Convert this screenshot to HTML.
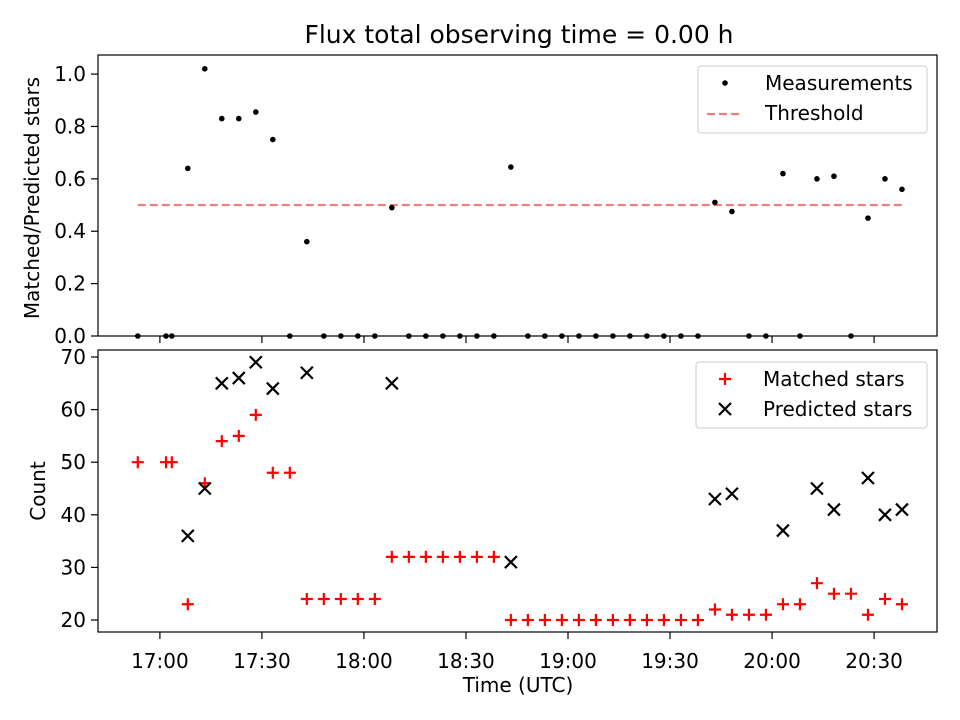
<!DOCTYPE html>
<html><head><meta charset="utf-8"><style>
body{margin:0;background:#fff;}
svg{display:block;font-family:"DejaVu Sans","Liberation Sans",sans-serif;}
</style></head><body>
<svg id="chart" width="960" height="720" xmlns="http://www.w3.org/2000/svg"></svg>
<script>
// minutes after 17:00 UTC
const times = [-6.5,1.8,3.5,8.2,13.2,18.2,23.2,28.2,33.2,38.2,43.2,48.2,53.2,58.2,63.2,68.2,73.2,78.2,83.2,88.2,93.2,98.2,103.2,108.2,113.2,118.2,123.2,128.2,133.2,138.2,143.2,148.2,153.2,158.2,163.2,168.2,173.2,178.2,183.2,188.2,193.2,198.2,203.2,208.2,213.2,218.2];
const ratio = [0,0,0,0.64,1.02,0.83,0.83,0.855,0.75,0,0.36,0,0,0,0,0.49,0,0,0,0,0,0,0.645,0,0,0,0,0,0,0,0,0,0,0,0.51,0.475,0,0,0.62,0,0.60,0.61,0,0.45,0.60,0.56];
const matched = [50,50,50,23,46,54,55,59,48,48,24,24,24,24,24,32,32,32,32,32,32,32,20,20,20,20,20,20,20,20,20,20,20,20,22,21,21,21,23,23,27,25,25,21,24,23];
const predTimes = [8.2,13.2,18.2,23.2,28.2,33.2,43.2,68.2,103.2,163.2,168.2,183.2,193.2,198.2,208.2,213.2,218.2];
const predicted = [36,45,65,66,69,64,67,65,31,43,44,37,45,41,47,40,41];
const threshold = 0.5;
const xTickVals = [0,30,60,90,120,150,180,210];
const xTickLabels = ["17:00","17:30","18:00","18:30","19:00","19:30","20:00","20:30"];
const topTicks = [0,0.2,0.4,0.6,0.8,1.0];
const botTicks = [20,30,40,50,60,70];

const svg = document.getElementById('chart');
const NS = "http://www.w3.org/2000/svg";
function mk(tag, attrs, parent){const e=document.createElementNS(NS,tag);for(const k in attrs)e.setAttribute(k,attrs[k]);(parent||svg).appendChild(e);return e;}
const FS='20';
const L=98,R=937;
const xMin=-18.2,xMax=228.5;
const X=m=>L+(m-xMin)/(xMax-xMin)*(R-L);
const T1=55,B1=336,yTopMax=1.0728;
const Y1=v=>B1-v/yTopMax*(B1-T1);
const T2=350,B2=632,y2min=17.72,y2max=71.33;
const Y2=v=>B2-(v-y2min)/(y2max-y2min)*(B2-T2);

let t=mk('text',{x:519,y:43,'text-anchor':'middle','font-size':'25'});t.textContent="Flux total observing time = 0.00 h";



let g1=mk('g',{});


topTicks.forEach(v=>{const y=Y1(v);mk('line',{x1:L-7,x2:L,y1:y,y2:y,stroke:'#000','stroke-width':1.2},g1);
 const tx=mk('text',{x:L-12,y:y+7,'text-anchor':'end','font-size':FS},g1);tx.textContent=v.toFixed(1);
 
 });
xTickVals.forEach(v=>{mk('line',{x1:X(v),x2:X(v),y1:B1,y2:B1+7,stroke:'#000','stroke-width':1.2},g1);});
let yl=mk('text',{transform:'translate(39,198) rotate(-90)','text-anchor':'middle','font-size':FS},g1);yl.textContent="Matched/Predicted stars";


let th=mk('line',{x1:X(times[0]),x2:X(times[times.length-1]),y1:Y1(threshold),y2:Y1(threshold),stroke:'#f08080','stroke-width':2.2,'stroke-dasharray':'8,4'},g1);


times.forEach((m,i)=>{const c=mk('circle',{cx:X(m),cy:Y1(ratio[i]),r:2.8,fill:'#000'},g1);
 
 });
mk('rect',{x:L,y:T1,width:R-L,height:B1-T1,fill:'none',stroke:'#000','stroke-width':1.2},g1);
let lg1=mk('g',{});


mk('rect',{x:698,y:66,width:229,height:67,rx:3,fill:'#fff',stroke:'#ccc'},lg1);
mk('circle',{cx:725,cy:83,r:2.8,fill:'#000'},lg1);
let lt=mk('text',{x:765,y:90,'font-size':FS},lg1);lt.textContent="Measurements";
mk('line',{x1:707,x2:743,y1:114,y2:114,stroke:'#f08080','stroke-width':2.2,'stroke-dasharray':'8,4'},lg1);
lt=mk('text',{x:765,y:120,'font-size':FS},lg1);lt.textContent="Threshold";

let g2=mk('g',{});


botTicks.forEach(v=>{const y=Y2(v);mk('line',{x1:L-7,x2:L,y1:y,y2:y,stroke:'#000','stroke-width':1.2},g2);
 const tx=mk('text',{x:L-12,y:y+7,'text-anchor':'end','font-size':FS},g2);tx.textContent=v;
 
 });
xTickVals.forEach((v,i)=>{mk('line',{x1:X(v),x2:X(v),y1:B2,y2:B2+7,stroke:'#000','stroke-width':1.2},g2);
 const tx=mk('text',{x:X(v),y:B2+36,'text-anchor':'middle','font-size':FS},g2);tx.textContent=xTickLabels[i];
 
 });
yl=mk('text',{transform:'translate(45,491) rotate(-90)','text-anchor':'middle','font-size':FS},g2);yl.textContent="Count";


let xl=mk('text',{x:518,y:692,'text-anchor':'middle','font-size':FS},g2);xl.textContent="Time (UTC)";


function plus(cx,cy,p,col){mk('path',{d:`M${cx-6},${cy}H${cx+6}M${cx},${cy-6}V${cy+6}`,stroke:col,'stroke-width':2.2},p);}
function cross(cx,cy,p,col){mk('path',{d:`M${cx-6},${cy-6}L${cx+6},${cy+6}M${cx-6},${cy+6}L${cx+6},${cy-6}`,stroke:col,'stroke-width':2.2},p);}
times.forEach((m,i)=>plus(X(m),Y2(matched[i]),g2,'#f00'));
predTimes.forEach((m,i)=>cross(X(m),Y2(predicted[i]),g2,'#000'));
mk('rect',{x:L,y:T2,width:R-L,height:B2-T2,fill:'none',stroke:'#000','stroke-width':1.2},g2);
let lg2=mk('g',{});


mk('rect',{x:696,y:362,width:231,height:66,rx:3,fill:'#fff',stroke:'#ccc'},lg2);
plus(725,379,lg2,'#f00');
lt=mk('text',{x:763,y:386,'font-size':FS},lg2);lt.textContent="Matched stars";
cross(725,409,lg2,'#000');
lt=mk('text',{x:763,y:416,'font-size':FS},lg2);lt.textContent="Predicted stars";
</script>
</body></html>
